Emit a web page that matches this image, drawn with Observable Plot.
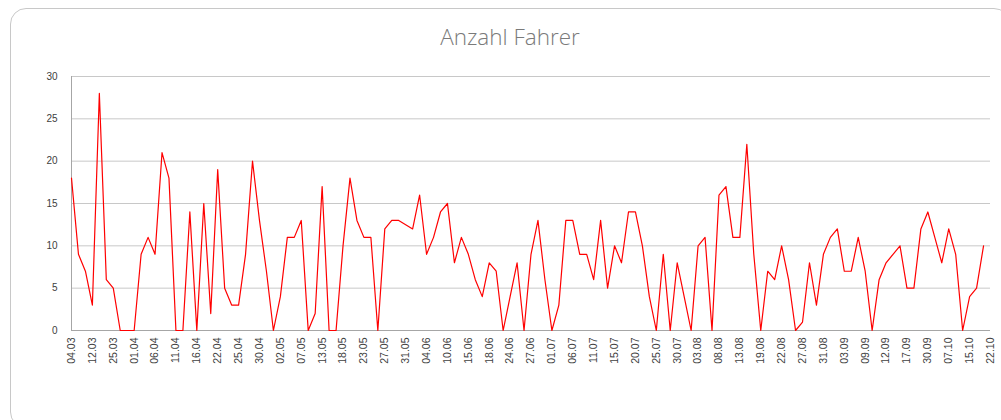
<!DOCTYPE html>
<html><head><meta charset="utf-8">
<script src="https://cdn.jsdelivr.net/npm/d3@7"></script>
<script src="https://cdn.jsdelivr.net/npm/@observablehq/plot@0.6"></script>
<style>
body{margin:0;background:#fff;width:1001px;height:420px;overflow:hidden;position:relative;font-family:"Liberation Sans",Arial,sans-serif}
#frame{position:absolute;left:10px;top:8px;width:1000px;height:420px;border:1px solid #c8c8c8;border-radius:16px;box-sizing:border-box}
#title{position:absolute;left:0;width:1020px;top:21px;text-align:center;font-family:"Open Sans",sans-serif;font-weight:300;font-size:22.5px;color:#7a7a7a}
#chart{position:absolute;left:0;top:0}
</style></head><body>
<div id="frame"></div>
<div id="title">Anzahl Fahrer</div>
<div id="chart"></div>
<script>
const tickLabels = ["04.03","12.03","25.03","01.04","06.04","11.04","16.04","22.04","25.04","30.04",
  "02.05","07.05","13.05","18.05","23.05","27.05","31.05","04.06","10.06","15.06",
  "18.06","24.06","27.06","01.07","06.07","11.07","15.07","20.07","25.07","30.07",
  "03.08","08.08","13.08","19.08","22.08","27.08","31.08","03.09","09.09","12.09",
  "17.09","30.09","07.10","15.10","22.10"];
const riders = [18,9,7,3,28,6,5,0,0,0,9,11,9,21,18,0,0,14,0,
  15,2,19,5,3,3,9,20,13,7,0,4,11,11,13,0,2,17,0,
  0,10,18,13,11,11,0,12,13,13,12.5,12,16,9,11,14,15,8,11,
  9,6,4,8,7,0,4,8,0,9,13,6,0,3,13,13,9,9,6,
  13,5,10,8,14,14,10,4,0,9,0,8,4,0,10,11,0,16,17,
  11,11,22,9,0,7,6,10,6,0,1,8,3,9,11,12,7,7,11,
  7,0,6,8,9,10,5,5,12,14,11,8,12,9,0,4,5,10];
const yTicks = [0,5,10,15,20,25,30];
const xTickIdx = tickLabels.map((_, k) => k * 3);
const data = riders.map((v, i) => ({i, v}));

const chart = Plot.plot({
  width: 1001, height: 420,
  marginLeft: 71, marginRight: 11, marginTop: 76, marginBottom: 90,
  style: {background: "transparent", fontFamily: "'Liberation Sans', Arial, sans-serif"},
  x: {type: "linear", domain: [0, xTickIdx[xTickIdx.length - 1]]},
  y: {domain: [0, 30]},
  marks: [
    Plot.gridY(yTicks, {stroke: "#c8c8c8", strokeOpacity: 1}),
    Plot.ruleY([0], {stroke: "#a6a6a6"}),
    Plot.ruleX([0], {stroke: "#a6a6a6"}),
    Plot.axisY(yTicks, {tickSize: 0, tickPadding: 14, fontSize: 10, fill: "#404040", label: null}),
    Plot.axisX(xTickIdx, {tickSize: 0, tickPadding: 7, tickRotate: -90, fontSize: 10.5, fill: "#404040",
      tickFormat: i => tickLabels[i / 3], label: null}),
    Plot.line(data, {x: "i", y: "v", stroke: "#ff0000", strokeWidth: 1.2})
  ]
});
document.getElementById("chart").append(chart);
</script>
</body></html>
